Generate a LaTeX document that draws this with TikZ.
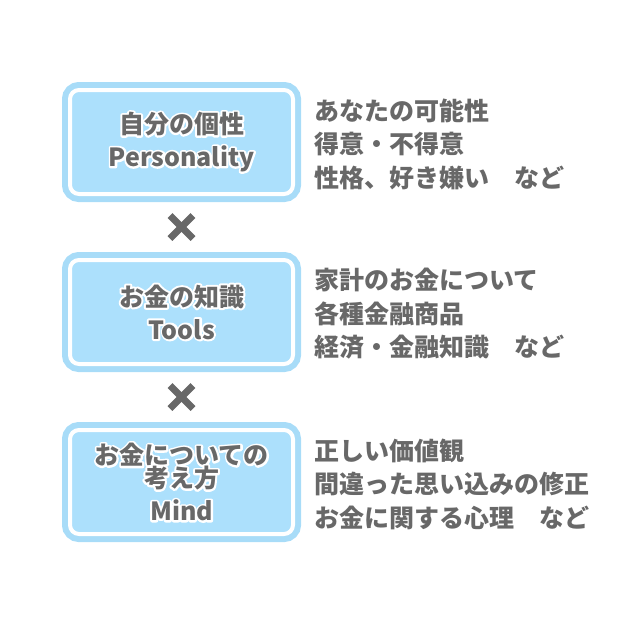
\documentclass[tikz,border=0pt]{standalone}
\usepackage{fontspec}
\setmainfont{Noto Sans CJK JP}
\usetikzlibrary{positioning}
\definecolor{boxblue}{RGB}{172,224,252}
\definecolor{ringblue}{RGB}{168,220,248}
\definecolor{textgray}{RGB}{104,104,104}
% white stroked copy under the text
\newcommand{\halo}[1]{\leavevmode\rlap{\special{pdf:literal direct 2 Tr 4 w 1 J 1 j}\textcolor{white}{#1}\special{pdf:literal direct 0 Tr}}#1}
\tikzset{
  topic/.style={rectangle, rounded corners=9pt, fill=boxblue, draw=white, line width=4pt,
    preaction={draw=ringblue, line width=16pt},
    minimum width=223pt, minimum height=104pt, outer sep=0pt, align=center,
    text=textgray, font=\bfseries\fontsize{25pt}{33pt}\selectfont},
  detail/.style={inner sep=0pt, outer sep=0pt, align=left, anchor=west,
    text=textgray, font=\bfseries\fontsize{25pt}{33.5pt}\selectfont},
  times/.style={draw=textgray, line width=7pt}
}
\begin{document}
\begin{tikzpicture}[x=1pt, y=-1pt]
  \useasboundingbox (0,0) rectangle (640,640);

  % boxes
  \node[topic] (b1) at (181.5,142) {\halo{自分の個性}\\\halo{Personality}};
  \node[topic, below=66pt of b1] (b2) {\halo{お金の知識}\\\halo{Tools}};
  \node[topic, below=66pt of b2] (b3) {\halo{お金についての}\\[-10pt]\halo{考え方}\\\halo{Mind}};

  % descriptions
  \node[detail, right=21pt of b1, yshift=-2pt] (d1) {あなたの可能性\\得意・不得意\\性格、好き嫌い　など};
  \node[detail, right=21pt of b2, yshift=-2pt] (d2) {家計のお金について\\各種金融商品\\経済・金融知識　など};
  \node[detail, right=21pt of b3, yshift=-2pt] (d3) {正しい価値観\\間違った思い込みの修正\\お金に関する心理　など};

  % crosses
  \coordinate[below=33pt of b1.south] (x1);
  \coordinate[below=33pt of b2.south] (x2);
  \foreach \c in {x1,x2}{
    \draw[times] ([shift={(-11.5,-11.5)}]\c) -- ([shift={(11.5,11.5)}]\c);
    \draw[times] ([shift={(-11.5,11.5)}]\c) -- ([shift={(11.5,-11.5)}]\c);
  }
\end{tikzpicture}
\end{document}
